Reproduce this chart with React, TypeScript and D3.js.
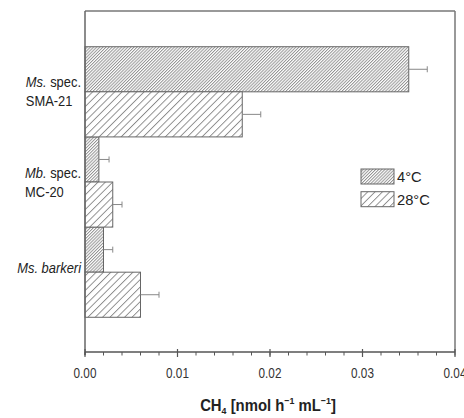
import React, { useEffect, useRef } from "react";
import * as d3 from "d3";

const categories = ["SMA-21", "MC-20", "barkeri"];
const labelLine1 = [
  [{ t: "Ms.", i: true }, { t: " spec.", i: false }],
  [{ t: "Mb.", i: true }, { t: " spec.", i: false }],
  [{ t: "Ms. barkeri", i: true }],
];
const labelLine2 = ["SMA-21", "MC-20", ""];
const seriesNames = ["4°C", "28°C"];
const values4C = [0.035, 0.0015, 0.002];
const errors4C = [0.002, 0.0011, 0.001];
const values28C = [0.017, 0.003, 0.006];
const errors28C = [0.002, 0.001, 0.002];
const xTicks = [0, 0.01, 0.02, 0.03, 0.04];
const xMinorTicks = d3.range(0, 0.0401, 0.002);

export default function App() {
  const ref = useRef<SVGSVGElement | null>(null);

  useEffect(() => {
    const svg = d3.select(ref.current);
    svg.selectAll("*").remove();

    const left = 85, right = 455, top = 11, bottom = 352;
    const font = "'Liberation Sans', Arial, sans-serif";

    const sText = (px: number, py: number, sx: number) =>
      svg.append("g").attr("transform", `translate(${px},${py}) scale(${sx},1)`).append("text");

    const x = d3.scaleLinear().domain([0, 0.04]).range([left, right]);
    const y = d3.scaleBand<string>().domain(categories).range([top + 1, bottom]).paddingInner(0).paddingOuter(0.385);
    const sub = d3.scaleBand<string>().domain(seriesNames).range([0, y.bandwidth()]);

    const defs = svg.append("defs");
    const mkPattern = (id: string, size: number, color: string, sw: number) => {
      const p = defs.append("pattern")
        .attr("id", id)
        .attr("patternUnits", "userSpaceOnUse")
        .attr("width", size)
        .attr("height", size)
        .attr("patternTransform", "rotate(45)");
      p.append("rect").attr("width", size).attr("height", size).attr("fill", "white");
      p.append("line").attr("x1", 0.5).attr("x2", 0.5).attr("y1", 0).attr("y2", size)
        .attr("stroke", color).attr("stroke-width", sw);
    };
    mkPattern("hatch4", 2.2, "#8a8a8a", 0.9);
    mkPattern("hatch28", 5.2, "#777", 0.8);
    const fills = ["url(#hatch4)", "url(#hatch28)"];

    const series = [
      { name: seriesNames[0], values: values4C, errors: errors4C },
      { name: seriesNames[1], values: values28C, errors: errors28C },
    ];

    const g = svg.append("g");
    series.forEach((s, si) => {
      categories.forEach((c, ci) => {
        const y0 = (y(c) as number) + (sub(s.name) as number);
        const h = sub.bandwidth();
        g.append("rect")
          .attr("x", x(0)).attr("y", y0)
          .attr("width", x(s.values[ci]) - x(0)).attr("height", h)
          .attr("fill", fills[si]).attr("stroke", "#666").attr("stroke-width", 1);
        const ym = y0 + h / 2;
        const xe = x(s.values[ci] + s.errors[ci]);
        g.append("line").attr("x1", x(s.values[ci])).attr("x2", xe).attr("y1", ym).attr("y2", ym)
          .attr("stroke", "#888").attr("stroke-width", 1);
        g.append("line").attr("x1", xe).attr("x2", xe).attr("y1", ym - 3).attr("y2", ym + 3)
          .attr("stroke", "#888").attr("stroke-width", 1);
      });
    });

    // frame
    svg.append("line").attr("x1", left).attr("x2", right).attr("y1", top).attr("y2", top)
      .attr("stroke", "#777").attr("stroke-width", 1.5);
    svg.append("line").attr("x1", right).attr("x2", right).attr("y1", top).attr("y2", bottom)
      .attr("stroke", "#777").attr("stroke-width", 1.5);
    svg.append("line").attr("x1", left).attr("x2", left).attr("y1", top).attr("y2", bottom + 3)
      .attr("stroke", "#666").attr("stroke-width", 1.5);
    svg.append("line").attr("x1", left).attr("x2", right).attr("y1", bottom).attr("y2", bottom)
      .attr("stroke", "#555").attr("stroke-width", 1.5);

    // ticks
    xMinorTicks.forEach((t) => {
      svg.append("line").attr("x1", x(t)).attr("x2", x(t)).attr("y1", bottom).attr("y2", bottom + 3.5)
        .attr("stroke", "#555").attr("stroke-width", 1);
    });
    xTicks.forEach((t) => {
      svg.append("line").attr("x1", x(t)).attr("x2", x(t)).attr("y1", bottom - 3).attr("y2", bottom + 5)
        .attr("stroke", "#555").attr("stroke-width", 1.2);
      sText(x(t), 378, 0.84)
        .attr("text-anchor", "middle").attr("font-family", font).attr("font-size", 14)
        .attr("fill", "#333").text(d3.format(".2f")(t));
    });

    // category labels
    const lblScale = 0.89;
    categories.forEach((c, ci) => {
      const cy = (y(c) as number) + y.bandwidth() / 2;
      const twoLines = labelLine2[ci] !== "";
      const y1 = twoLines ? cy - 9.5 : cy - 4.5;
      const t1 = sText(81, y1 + 5.1, lblScale)
        .attr("text-anchor", "end").attr("font-family", font).attr("font-size", 14.5).attr("fill", "#222");
      labelLine1[ci].forEach((seg) => {
        t1.append("tspan").attr("font-style", seg.i ? "italic" : "normal").text(seg.t);
      });
      if (twoLines) {
        const w = (t1.node() as SVGTextElement).getComputedTextLength() * lblScale;
        sText(81 - w, cy + 9.5 + 5.1, lblScale)
          .attr("font-family", font).attr("font-size", 14.5).attr("fill", "#222").text(labelLine2[ci]);
      }
    });

    // legend
    seriesNames.forEach((n, i) => {
      const ly = 169 + i * 22.7;
      svg.append("rect").attr("x", 361).attr("y", ly).attr("width", 33).attr("height", 15)
        .attr("fill", fills[i]).attr("stroke", "#666").attr("stroke-width", 1);
      sText(397, ly + 13, 0.95)
        .attr("font-family", font).attr("font-size", 15.5).attr("fill", "#222").text(n);
    });

    // axis title
    const title = sText((left + right) / 2 - 2, 410.5, 0.93)
      .attr("text-anchor", "middle").attr("font-family", font).attr("font-size", 16)
      .attr("font-weight", "bold").attr("fill", "#222");
    title.append("tspan").text("CH");
    title.append("tspan").attr("font-size", 9.5).attr("dy", 3.5).text("4");
    title.append("tspan").attr("dy", -3.5).text(" [nmol h");
    title.append("tspan").attr("font-size", 9.5).attr("dy", -6.5).text("−1");
    title.append("tspan").attr("dy", 6.5).text(" mL");
    title.append("tspan").attr("font-size", 9.5).attr("dy", -6.5).text("−1");
    title.append("tspan").attr("dy", 6.5).text("]");
  }, []);

  return (
    <svg
      ref={ref}
      width={464}
      height={418}
      style={{ position: "absolute", left: 0, top: 0, background: "white" }}
    />
  );
}
